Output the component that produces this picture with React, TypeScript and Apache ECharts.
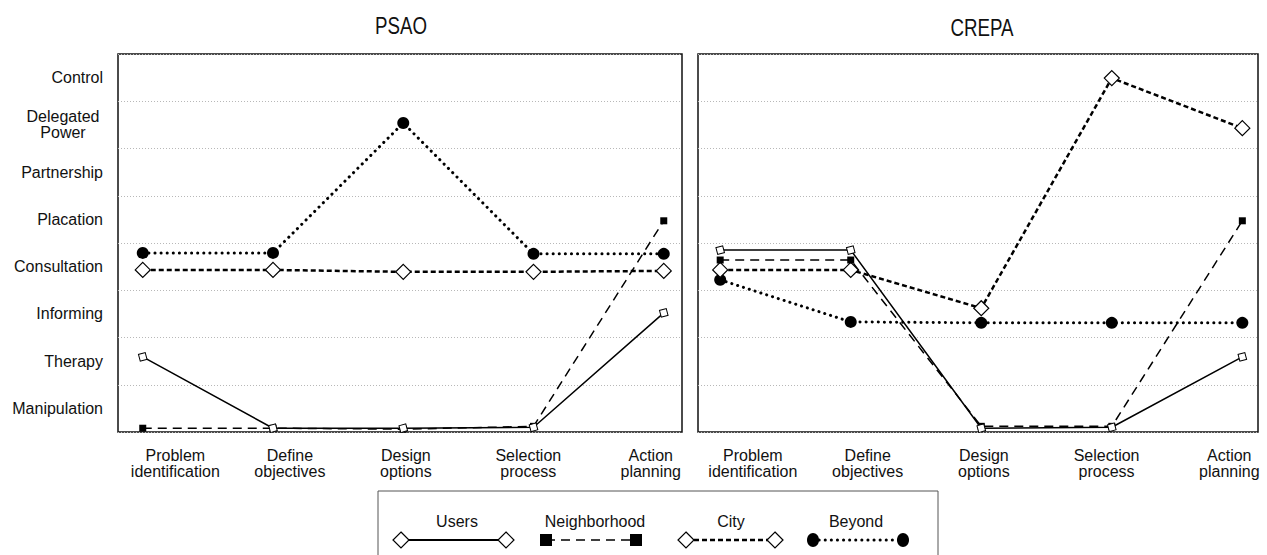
import React, { useEffect, useRef } from "react";
import * as echarts from "echarts";

const categories = [
  "Problem\nidentification",
  "Define\nobjectives",
  "Design\noptions",
  "Selection\nprocess",
  "Action\nplanning",
];
const levels = [
  "Manipulation",
  "Therapy",
  "Informing",
  "Consultation",
  "Placation",
  "Partnership",
  "Delegated\nPower",
  "Control",
];
const levelValues = [0.5, 1.5, 2.5, 3.5, 4.5, 5.5, 6.5, 7.5];
const categoryLabelValues = [0.25, 1.13, 2.02, 2.96, 3.9];
const panelTitles = ["PSAO", "CREPA"];
const seriesNames = ["Users", "Neighborhood", "City", "Beyond"];

const psaoUsers = [1.59, 0.08, 0.08, 0.1, 2.52];
const psaoNeighborhood = [0.08, 0.08, 0.06, 0.12, 4.47];
const psaoCity = [3.43, 3.43, 3.39, 3.39, 3.41];
const psaoBeyond = [3.79, 3.79, 6.54, 3.77, 3.77];

const crepaUsers = [3.85, 3.85, 0.08, 0.1, 1.59];
const crepaNeighborhood = [3.64, 3.64, 0.12, 0.12, 4.47];
const crepaCity = [3.43, 3.43, 2.62, 7.49, 6.43];
const crepaBeyond = [3.22, 2.33, 2.31, 2.31, 2.31];

const FONT = "'Liberation Sans', Arial, sans-serif";

const styles: any = {
  Users: {
    line: { color: "#000", width: 1.5, type: "solid" },
    symbol: "rect",
    size: 7,
    rotate: 15,
    item: { color: "#fff", borderColor: "#000", borderWidth: 1 },
  },
  Neighborhood: {
    line: { color: "#000", width: 1.5, type: [9, 6] },
    symbol: "rect",
    size: 7,
    rotate: 0,
    item: { color: "#000", borderColor: "#000", borderWidth: 0 },
  },
  City: {
    line: { color: "#000", width: 2.5, type: [5, 3] },
    symbol: "diamond",
    size: 15,
    rotate: 0,
    item: { color: "#fff", borderColor: "#000", borderWidth: 1.2 },
  },
  Beyond: {
    line: { color: "#000", width: 3, type: [0.1, 6], cap: "round" },
    symbol: "circle",
    size: 12,
    rotate: 0,
    item: { color: "#000", borderColor: "#000", borderWidth: 0 },
  },
};

function mkSeries(name: string, values: number[], idx: number) {
  const s = styles[name];
  return {
    name,
    type: "line",
    xAxisIndex: idx,
    yAxisIndex: idx,
    data: values.map((v, i) => [i, v]),
    symbol: s.symbol,
    symbolSize: s.size,
    symbolRotate: s.rotate,
    showSymbol: true,
    lineStyle: s.line,
    itemStyle: s.item,
    emphasis: { disabled: true },
    z: name === "Users" ? 4 : 3,
  };
}

function xAxis(idx: number, min: number, max: number) {
  return {
    type: "value",
    gridIndex: idx,
    min,
    max,
    axisLine: { show: false },
    axisTick: { show: false },
    splitLine: { show: false },
    axisLabel: {
      customValues: categoryLabelValues,
      formatter: (v: number) => categories[Math.round(v)] ?? "",
      fontFamily: FONT,
      fontSize: 16,
      lineHeight: 16,
      color: "#111",
      margin: 15,
    },
  };
}

function yAxis(idx: number, showLabels: boolean) {
  return {
    type: "value",
    gridIndex: idx,
    min: 0,
    max: 8,
    interval: 1,
    axisLine: { show: false },
    axisTick: { show: false },
    splitLine: {
      show: true,
      lineStyle: { color: "#b8b8b8", width: 1, type: [1, 2] },
    },
    axisLabel: {
      show: showLabels,
      customValues: levelValues,
      formatter: (v: number) => {
        const name = levels[Math.round(v - 0.5)] ?? "";
        return name.includes("\n") ? `{c|${name}}` : name;
      },
      fontFamily: FONT,
      fontSize: 16,
      lineHeight: 16,
      color: "#111",
      margin: 15,
      rich: {
        c: {
          width: 80,
          align: "center",
          fontFamily: FONT,
          fontSize: 16,
          lineHeight: 16,
          color: "#111",
        },
      },
    },
  };
}

function legendGraphics() {
  const items: any[] = [];
  items.push({
    type: "rect",
    shape: { x: 378, y: 491, width: 560, height: 80 },
    style: { fill: "#fff", stroke: "#555", lineWidth: 1 },
    z: 10,
  });
  const layout = [
    { cx: 457, x1: 401, x2: 506 },
    { cx: 595, x1: 546, x2: 636 },
    { cx: 731, x1: 686, x2: 775 },
    { cx: 856, x1: 813, x2: 903 },
  ];
  const ly = 540;
  seriesNames.forEach((name, i) => {
    const s = styles[name];
    const L = layout[i];
    items.push({
      type: "text",
      x: L.cx,
      y: 521,
      style: {
        text: name,
        fontFamily: FONT,
        fontSize: 16,
        fill: "#111",
        textAlign: "center",
        textVerticalAlign: "middle",
      },
      z: 11,
    });
    items.push({
      type: "line",
      shape: { x1: L.x1, y1: ly, x2: L.x2, y2: ly },
      style: {
        stroke: "#000",
        lineWidth: name === "Users" ? 2 : s.line.width,
        lineDash: Array.isArray(s.line.type) ? s.line.type : null,
        lineCap: s.line.cap || "butt",
      },
      z: 11,
    });
    [L.x1, L.x2].forEach((x) => {
      if (name === "Users" || name === "City") {
        const r = 8;
        items.push({
          type: "polygon",
          shape: {
            points: [
              [x, ly - r],
              [x + r, ly],
              [x, ly + r],
              [x - r, ly],
            ],
          },
          style: { fill: "#fff", stroke: "#000", lineWidth: 1.2 },
          z: 12,
        });
      } else if (name === "Neighborhood") {
        items.push({
          type: "rect",
          shape: { x: x - 6, y: ly - 6, width: 12, height: 12 },
          style: { fill: "#000" },
          z: 12,
        });
      } else {
        items.push({
          type: "ellipse",
          shape: { cx: x, cy: ly, rx: 6, ry: 7 },
          style: { fill: "#000" },
          z: 12,
        });
      }
    });
  });
  return items;
}

const titleGraphics = [
  { x: 401, y: 26, text: panelTitles[0] },
  { x: 982, y: 28, text: panelTitles[1] },
].map((t) => ({
  type: "text",
  x: t.x,
  y: t.y,
  scaleX: 0.78,
  style: {
    text: t.text,
    fontFamily: FONT,
    fontSize: 24,
    fill: "#111",
    textAlign: "center",
    textVerticalAlign: "middle",
  },
}));

const option: any = {
  animation: false,
  backgroundColor: "#fff",
  grid: [
    {
      left: 118,
      top: 54,
      width: 564,
      height: 378,
      show: true,
      borderColor: "#111",
      borderWidth: 1.5,
      backgroundColor: "transparent",
    },
    {
      left: 698,
      top: 54,
      width: 560,
      height: 378,
      show: true,
      borderColor: "#111",
      borderWidth: 1.5,
      backgroundColor: "transparent",
    },
  ],
  xAxis: [xAxis(0, -0.19, 4.14), xAxis(1, -0.17, 4.12)],
  yAxis: [yAxis(0, true), yAxis(1, false)],
  series: [
    mkSeries("Beyond", psaoBeyond, 0),
    mkSeries("City", psaoCity, 0),
    mkSeries("Neighborhood", psaoNeighborhood, 0),
    mkSeries("Users", psaoUsers, 0),
    mkSeries("Beyond", crepaBeyond, 1),
    mkSeries("City", crepaCity, 1),
    mkSeries("Neighborhood", crepaNeighborhood, 1),
    mkSeries("Users", crepaUsers, 1),
  ],
  graphic: [...titleGraphics, ...legendGraphics()],
};

export default function App() {
  const ref = useRef<HTMLDivElement>(null);
  useEffect(() => {
    const chart = echarts.init(ref.current!, null, { renderer: "svg" });
    chart.setOption(option);
    return () => chart.dispose();
  }, []);
  return (
    <div
      ref={ref}
      style={{ position: "absolute", left: 0, top: 0, width: 1267, height: 555 }}
    />
  );
}
